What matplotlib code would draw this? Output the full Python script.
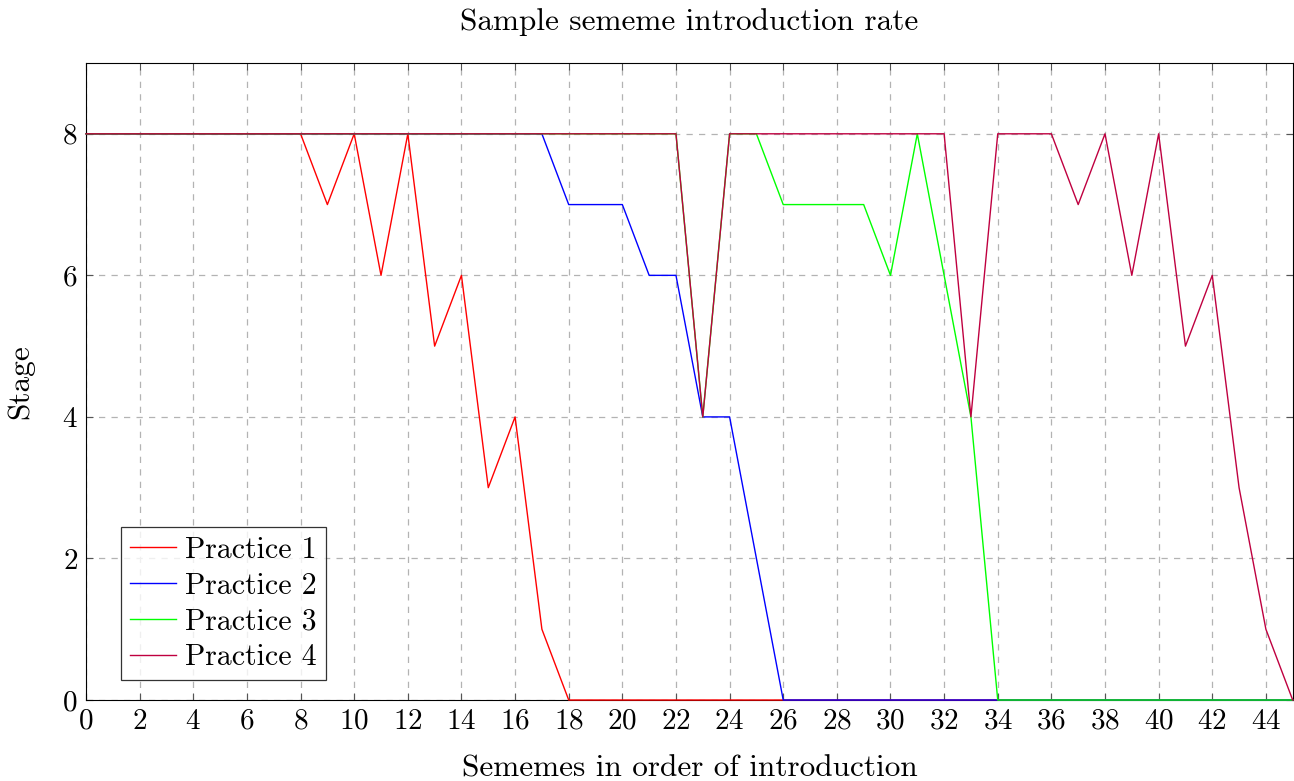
import numpy as np
import matplotlib.pyplot as plt

plt.rcParams['font.family'] = 'serif'
plt.rcParams['font.serif'] = ['cmr10']
plt.rcParams['mathtext.fontset'] = 'cm'
plt.rcParams['axes.formatter.use_mathtext'] = True

sememes = list(range(46))
practice1 = [8, 8, 8, 8, 8, 8, 8, 8, 8, 7, 8, 6, 8, 5, 6, 3, 4, 1] + [0] * 28
practice2 = [8] * 18 + [7, 7, 7, 6, 6, 4, 4, 2] + [0] * 20
practice3 = [8] * 23 + [4, 8, 8, 7, 7, 7, 7, 6, 8, 6, 4] + [0] * 12
practice4 = [8] * 23 + [4] + [8] * 9 + [4, 8, 8, 8, 7, 8, 6, 8, 5, 6, 3, 1, 0]

series = [
    ("Practice 1", practice1, "#ff0000"),
    ("Practice 2", practice2, "#0000ff"),
    ("Practice 3", practice3, "#00ff00"),
    ("Practice 4", practice4, "#bf0040"),
]

fig = plt.figure(figsize=(12.94, 7.81), dpi=100)
ax = fig.add_axes([0.0665, 0.1037, 0.9325, 0.8156])

for name, vals, col in series:
    ax.plot(sememes, vals, color=col, lw=1.0, label=name, zorder=3, clip_on=False)

ax.set_xlim(0, 45)
ax.set_ylim(0, 9)
ax.set_xticks(range(0, 46, 2))
ax.set_yticks(range(0, 9, 2))
ax.grid(True, color="#b3b3b3", linestyle=(0, (5, 5)), lw=0.9)
ax.tick_params(direction="in", top=True, right=True, length=5, labelsize=21,
               color="#555555", pad=6)
for s in ax.spines.values():
    s.set_linewidth(0.8)
    s.set_zorder(2.5)

ax.set_title("Sample sememe introduction rate", fontsize=22.5, pad=24)
ax.set_xlabel("Sememes in order of introduction", fontsize=22.5, labelpad=14)
ax.set_ylabel("Stage", fontsize=22.5, labelpad=20)

leg = ax.legend(loc="lower left", bbox_to_anchor=(0.024, 0.022), fontsize=21.5,
                frameon=True, fancybox=False, edgecolor="black",
                handlelength=1.55, handletextpad=0.3, labelspacing=0.28,
                borderpad=0.3, borderaxespad=0.2)
leg.get_frame().set_linewidth(0.9)

fig.savefig("out.png", dpi=100)
